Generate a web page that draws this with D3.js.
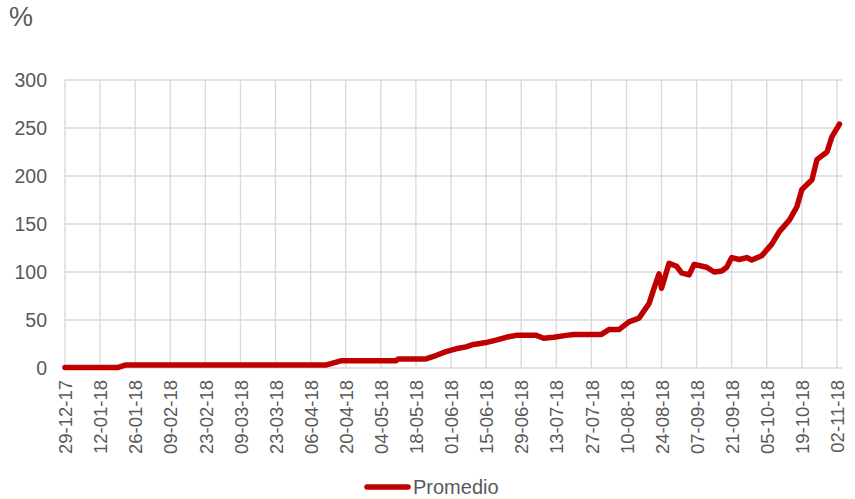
<!DOCTYPE html>
<html>
<head>
<meta charset="utf-8">
<script src="https://cdn.jsdelivr.net/npm/d3@7"></script>
<style>
  body { margin: 0; background: #fff; }
  svg text { font-family: "Liberation Sans", Arial, sans-serif; fill: #595959; }
</style>
</head>
<body>
<div id="chart"></div>
<script>
// Data (date, value in %)
const dates = [
  "2017-12-29", "2018-01-19", "2018-01-22", "2018-04-12", "2018-04-18", "2018-05-10",
  "2018-05-11", "2018-05-22", "2018-05-26", "2018-05-30", "2018-06-03", "2018-06-07",
  "2018-06-10", "2018-06-15", "2018-06-19", "2018-06-23", "2018-06-27", "2018-07-05",
  "2018-07-08", "2018-07-12", "2018-07-17", "2018-07-20", "2018-07-31", "2018-08-03",
  "2018-08-07", "2018-08-11", "2018-08-15", "2018-08-19", "2018-08-21", "2018-08-23",
  "2018-08-24", "2018-08-27", "2018-08-30", "2018-09-01", "2018-09-04", "2018-09-06",
  "2018-09-11", "2018-09-14", "2018-09-17", "2018-09-19", "2018-09-21", "2018-09-24",
  "2018-09-27", "2018-09-29", "2018-10-03", "2018-10-05", "2018-10-07", "2018-10-10",
  "2018-10-14", "2018-10-17", "2018-10-19", "2018-10-23", "2018-10-25", "2018-10-29",
  "2018-10-31", "2018-11-03"
];
const promedio = [
  0.5, 0.5, 3, 3, 7.5, 7.5,
  9.5, 9.5, 13, 17, 20, 22,
  24.5, 26.5, 29, 32, 34, 34,
  31, 32, 34, 35, 35, 40,
  40, 48, 52, 67, 83, 98,
  83, 109, 106, 99, 97, 108,
  105, 100, 101, 105, 115, 113,
  115, 112.5, 117, 123, 129, 142,
  154, 168, 186, 196, 217, 225,
  241, 254
];
const tickDates = [
  "29-12-17", "12-01-18", "26-01-18", "09-02-18", "23-02-18", "09-03-18", "23-03-18",
  "06-04-18", "20-04-18", "04-05-18", "18-05-18", "01-06-18", "15-06-18", "29-06-18",
  "13-07-18", "27-07-18", "10-08-18", "24-08-18", "07-09-18", "21-09-18", "05-10-18",
  "19-10-18", "02-11-18"
];
const yTicks = [0, 50, 100, 150, 200, 250, 300];
const seriesName = "Promedio";

const width = 855, height = 499;
const margin = { top: 80, right: 13, bottom: 131, left: 65 };
const red = "#c00000";

const parseIso = d3.timeParse("%Y-%m-%d");
const parseTick = d3.timeParse("%d-%m-%y");
const fmtTick = d3.timeFormat("%d-%m-%y");

const data = dates.map((d, i) => ({ date: parseIso(d), value: promedio[i] }));
const ticks = tickDates.map(parseTick);

const svg = d3.select("#chart").append("svg")
  .attr("width", width)
  .attr("height", height);

const x = d3.scaleTime()
  .domain([parseIso("2017-12-29"), parseIso("2018-11-04")])
  .range([margin.left, width - margin.right]);

const y = d3.scaleLinear()
  .domain([0, 300])
  .range([height - margin.bottom, margin.top]);

// horizontal grid
svg.append("g")
  .selectAll("line")
  .data(yTicks)
  .join("line")
  .attr("x1", x.range()[0])
  .attr("x2", x.range()[1])
  .attr("y1", d => y(d))
  .attr("y2", d => y(d))
  .attr("stroke", "#d9d9d9")
  .attr("stroke-width", 1.3);

// vertical grid
svg.append("g")
  .selectAll("line")
  .data(ticks)
  .join("line")
  .attr("x1", d => x(d))
  .attr("x2", d => x(d))
  .attr("y1", y(0))
  .attr("y2", y(300))
  .attr("stroke", "#d9d9d9")
  .attr("stroke-width", 1.3);

// y axis labels
const yAxis = svg.append("g")
  .attr("transform", `translate(${margin.left - 18},0)`)
  .call(d3.axisLeft(y).tickValues(yTicks).tickSize(0).tickPadding(0));
yAxis.select(".domain").remove();
yAxis.selectAll("text")
  .style("font-size", "19.5px")
  .attr("fill", "#595959");

// x axis labels
const xAxis = svg.append("g")
  .attr("transform", `translate(0,${y(0)})`)
  .call(d3.axisBottom(x).tickValues(ticks).tickFormat(fmtTick).tickSize(0));
xAxis.select(".domain").remove();
xAxis.selectAll("text")
  .style("font-size", "18.5px")
  .attr("fill", "#595959")
  .attr("text-anchor", "end")
  .attr("transform", "rotate(-90)")
  .attr("x", -12)
  .attr("y", 0)
  .attr("dy", "0.36em");

// unit label
svg.append("text")
  .attr("x", 9)
  .attr("y", 26)
  .style("font-size", "27px")
  .attr("fill", "#404040")
  .text("%");

// series line
const line = d3.line()
  .x(d => x(d.date))
  .y(d => y(d.value));

svg.append("path")
  .datum(data)
  .attr("fill", "none")
  .attr("stroke", red)
  .attr("stroke-width", 5.5)
  .attr("stroke-linejoin", "round")
  .attr("stroke-linecap", "round")
  .attr("d", line);

// legend
const legend = svg.append("g").attr("transform", "translate(367,487)");
legend.append("line")
  .attr("x1", 0).attr("x2", 41)
  .attr("stroke", red)
  .attr("stroke-width", 5.5)
  .attr("stroke-linecap", "round");
legend.append("text")
  .attr("x", 46)
  .attr("dy", "0.36em")
  .style("font-size", "20px")
  .text(seriesName);
</script>
</body>
</html>
